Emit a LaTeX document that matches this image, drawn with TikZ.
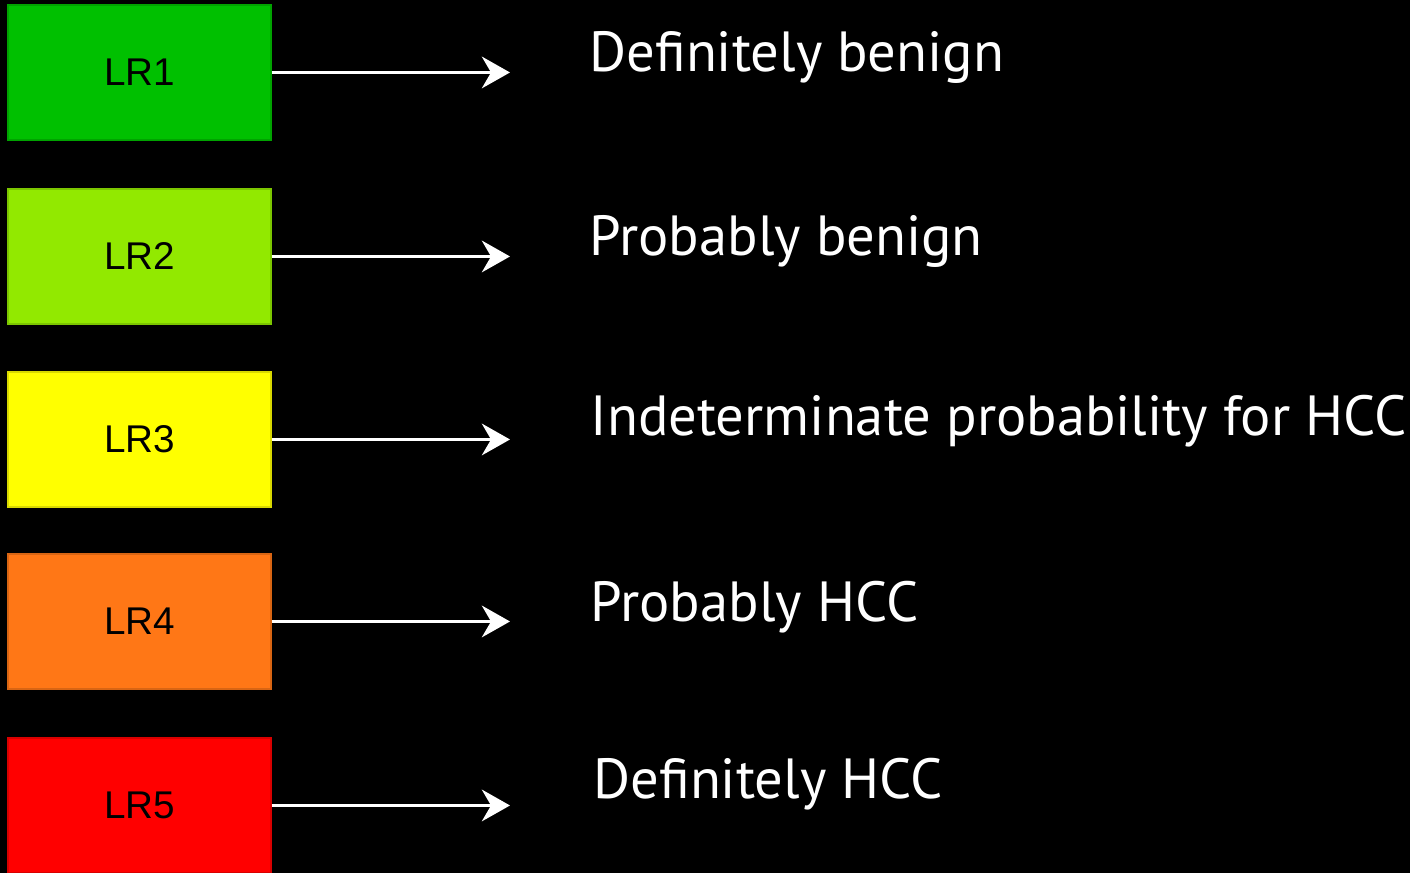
\documentclass[tikz,border=0pt]{standalone}
\usepackage{fontspec}
\usepackage{xcolor}
\usepackage{tikz}
\usetikzlibrary{arrows.meta}
\setmainfont{PT Sans}
\newfontfamily\lrfont{Liberation Sans}
\definecolor{lrone}{HTML}{00C000}
\definecolor{lrtwo}{HTML}{92E900}
\definecolor{lrthree}{HTML}{FFFF00}
\definecolor{lrfour}{HTML}{FF7716}
\definecolor{lrfive}{HTML}{FF0000}

\begin{document}
\begin{tikzpicture}[
  lrbox/.style={draw, minimum width=2.63cm, minimum height=1.35cm, inner sep=0pt,
    text=black, font=\lrfont\fontsize{11}{13}\selectfont},
  lrarrow/.style={white, line width=0.9pt, -{Stealth[length=8pt, width=9pt, inset=2.6pt]}},
  lrtext/.style={anchor=base west, inner sep=0pt, text=white, font=\fontsize{16.1}{18}\selectfont}
]
  \fill[black] (0,0) rectangle (14.1,8.73);
  \useasboundingbox (0,0) rectangle (14.1,8.73);
  % coloured boxes
  \node[lrbox, fill=lrone,   draw=lrone!85!black]   (LR1) at (1.395,8.005) {LR1};
  \node[lrbox, fill=lrtwo,   draw=lrtwo!85!black]   (LR2) at (1.395,6.165) {LR2};
  \node[lrbox, fill=lrthree, draw=lrthree!85!black] (LR3) at (1.395,4.335) {LR3};
  \node[lrbox, fill=lrfour,  draw=lrfour!85!black]  (LR4) at (1.395,2.515) {LR4};
  \node[lrbox, fill=lrfive,  draw=lrfive!85!black]  (LR5) at (1.395,0.675) {LR5};
  % arrow ends
  \coordinate (E1) at (5.10,8.005);
  \coordinate (E2) at (5.10,6.165);
  \coordinate (E3) at (5.10,4.335);
  \coordinate (E4) at (5.10,2.515);
  \coordinate (E5) at (5.10,0.675);
  \draw[lrarrow] (LR1.east) -- (E1);
  \draw[lrarrow] (LR2.east) -- (E2);
  \draw[lrarrow] (LR3.east) -- (E3);
  \draw[lrarrow] (LR4.east) -- (E4);
  \draw[lrarrow] (LR5.east) -- (E5);
  % meanings
  \node[lrtext] (T1) at (5.89,8.01) {Definitely benign};
  \node[lrtext] (T2) at (5.89,6.17) {Probably benign};
  \node[lrtext] (T3) at (5.90,4.37) {Indeterminate probability for HCC};
  \node[lrtext] (T4) at (5.90,2.51) {Probably HCC};
  \node[lrtext] (T5) at (5.93,0.74) {Definitely HCC};
\end{tikzpicture}
\end{document}
